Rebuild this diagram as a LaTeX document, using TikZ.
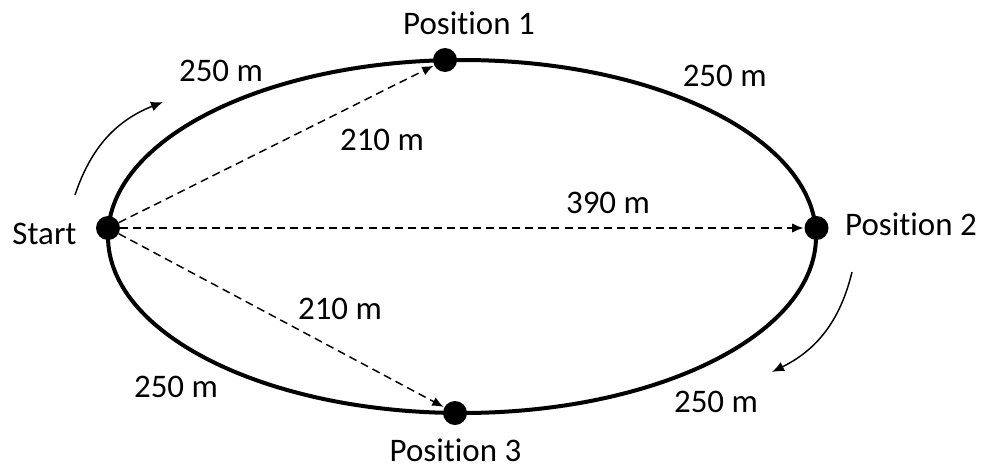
\documentclass[tikz,border=0pt]{standalone}
\usepackage{fontspec}
\setmainfont{Carlito}[Ligatures=NoCommon]
\usetikzlibrary{arrows.meta}
\begin{document}
\begin{tikzpicture}[x=0.75pt,y=-0.75pt,
  every node/.style={font=\fontsize{24.7}{30}\selectfont},
  dot/.style={circle,fill=black,inner sep=0pt,minimum size=18pt},
  lbl/.style={anchor=base,inner sep=0pt},
  track/.style={line width=3pt},
  dist/.style={line width=1.1pt,dash pattern=on 6pt off 3.8pt,-{Latex[length=8.5pt,width=7pt]},shorten >=0.5pt},
  dir/.style={line width=1.1pt,-{Latex[length=9pt,width=7.5pt]}}]
\useasboundingbox (0,0) rectangle (981,468);
\draw[track] (462,236.5) ellipse [x radius=354, y radius=176.5];
\node[dot] (s) at (108,228) {};
\node[dot] (p1) at (445,60) {};
\node[dot] (p2) at (816.5,228) {};
\node[dot] (p3) at (455,413) {};
\draw[dist] (s) -- (p1);
\draw[dist] (s) -- (p2);
\draw[dist] (s) -- (p3);
\coordinate (a1) at (75,195);
\coordinate (a2) at (163,102);
\coordinate (b1) at (852,272);
\coordinate (b2) at (772,372);
\draw[dir] (a1) to[bend left=25] (a2);
\draw[dir] (b1) to[bend left=25] (b2);
\node[lbl] (ts) at (44.5,244.5) {Start};
\node[lbl] (t1) at (469,34) {Position 1};
\node[lbl] (t2) at (911,235) {Position 2};
\node[lbl] (t3) at (455.5,461) {Position 3};
\node[lbl] (d1) at (221,81.7) {250 m};
\node[lbl] (d2) at (724.7,86) {250 m};
\node[lbl] (d3) at (176,397.3) {250 m};
\node[lbl] (d4) at (716,412.7) {250 m};
\node[lbl] (c1) at (382,150.7) {210 m};
\node[lbl] (c2) at (608,213.3) {390 m};
\node[lbl] (c3) at (340,319.3) {210 m};
\end{tikzpicture}
\end{document}
